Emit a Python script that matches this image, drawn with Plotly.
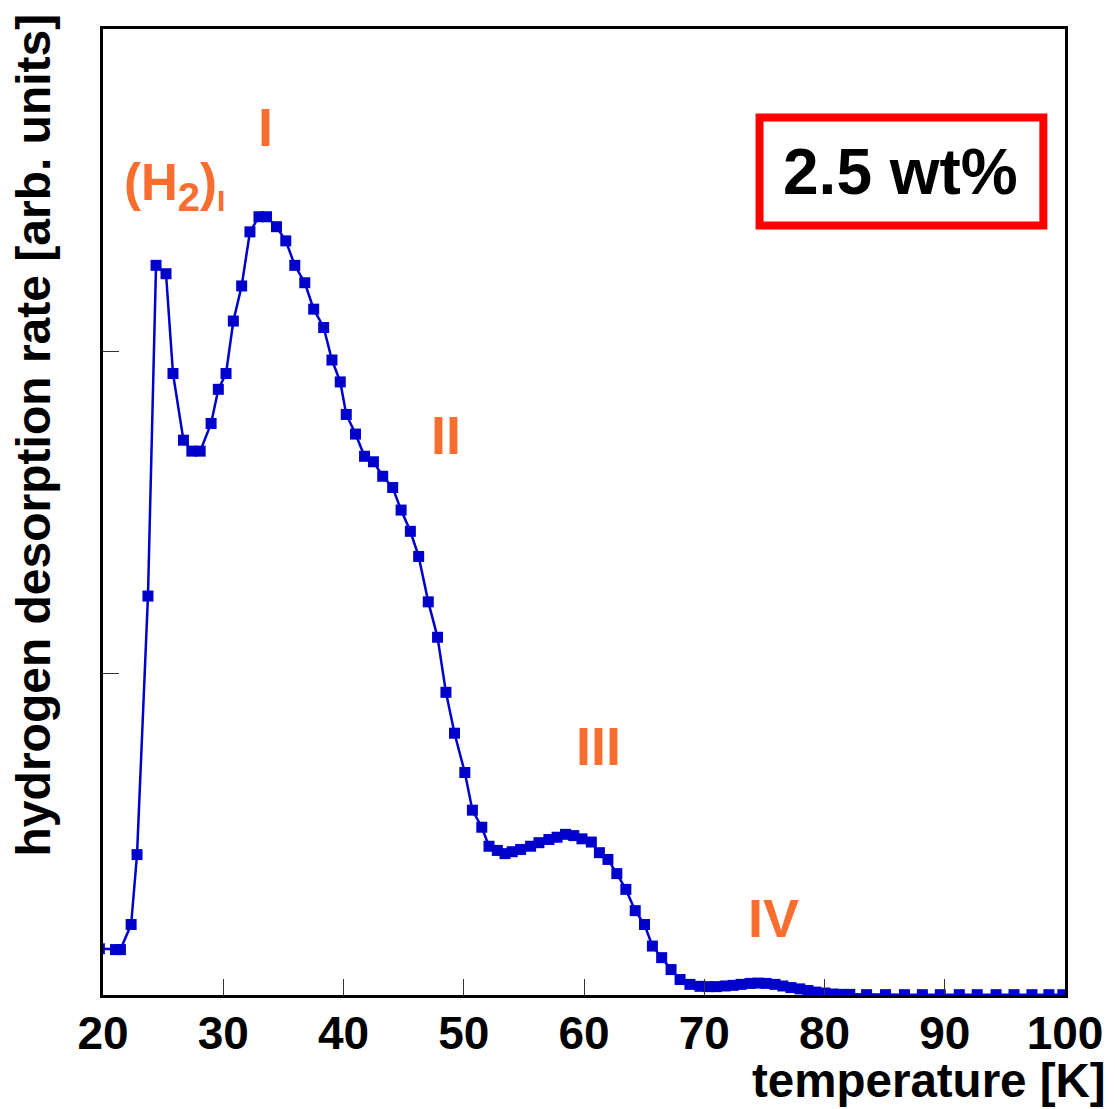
import plotly.graph_objects as go

# ---- data ----
temperature_K = [19.7, 21.04, 21.45, 22.34, 22.83, 23.74, 24.41, 25.24, 25.82, 26.69,
                 27.39, 28.08, 28.99, 29.59, 30.23, 30.84, 31.53, 32.22, 32.97, 33.60,
                 34.43, 35.20, 35.95, 36.78, 37.52, 38.35, 39.04, 39.73, 40.23, 41.00,
                 41.75, 42.49, 43.26, 44.09, 44.79, 45.56, 46.25, 47.05, 47.82, 48.52,
                 49.23, 50.09, 50.72, 51.50, 52.10, 52.79, 53.43, 54.03, 54.73, 55.56,
                 56.25, 57.08, 57.76, 58.46, 59.15, 59.83, 60.61, 61.28, 61.99, 62.73,
                 63.48, 64.26, 65.03, 65.69, 66.46, 67.24, 67.99, 68.81, 69.64, 70.33,
                 71.00, 71.74, 72.40, 73.06, 73.81, 74.47, 75.14, 75.88, 76.54, 77.21,
                 77.95, 78.62, 79.28, 80.03, 80.69, 81.35, 82.10, 83.50, 85.07, 86.65,
                 88.14, 89.63, 91.21, 92.70, 94.27, 95.76, 97.25, 98.66, 99.82]
desorption_rate = [0.144, 0.141, 0.141, 0.219, 0.436, 1.239, 2.266, 2.240, 1.930, 1.723,
                   1.689, 1.689, 1.775, 1.881, 1.930, 2.093, 2.202, 2.370, 2.417, 2.417,
                   2.386, 2.342, 2.266, 2.212, 2.130, 2.073, 1.972, 1.904, 1.803, 1.742,
                   1.673, 1.656, 1.611, 1.576, 1.506, 1.440, 1.362, 1.221, 1.111, 0.940,
                   0.813, 0.691, 0.574, 0.521, 0.462, 0.449, 0.439, 0.445, 0.452, 0.462,
                   0.473, 0.483, 0.490, 0.499, 0.495, 0.485, 0.475, 0.442, 0.421, 0.377,
                   0.328, 0.262, 0.219, 0.152, 0.116, 0.079, 0.048, 0.033, 0.027, 0.026,
                   0.026, 0.028, 0.030, 0.033, 0.036, 0.037, 0.036, 0.033, 0.028, 0.023,
                   0.019, 0.014, 0.009, 0.006, 0.003, 0.002, 0.002, 0.001, 0.001, 0.001,
                   0.001, 0.001, 0.001, 0.001, 0.001, 0.001, 0.001, 0.001, 0.001]

x_ticks = [20, 30, 40, 50, 60, 70, 80, 90, 100]
y_ticks = [1, 2]

peak_labels = ["I", "II", "III", "IV"]
peak_label_T = [33.52, 48.54, 61.22, 75.76]
peak_label_rate = [2.697, 1.740, 0.772, 0.238]

FONT = "Liberation Sans, Arial, sans-serif"
ORANGE = "#F96D2E"
BLUE = "#0000CC"

fig = go.Figure()
fig.add_trace(go.Scatter(
    x=temperature_K, y=desorption_rate, mode="lines+markers",
    line=dict(color=BLUE, width=2.5),
    marker=dict(symbol="square", size=11, color=BLUE, line=dict(width=0)),
    showlegend=False,
))

annotations = []
for lab, xt, yt in zip(peak_labels, peak_label_T, peak_label_rate):
    annotations.append(dict(x=xt, y=yt, xref="x", yref="y", text=lab, showarrow=False,
                            xanchor="center", yanchor="middle",
                            font=dict(family=FONT, size=54, color=ORANGE, weight="bold")))
annotations.append(dict(
    x=21.62, y=2.51, xref="x", yref="y", xanchor="left", yanchor="middle",
    text="(H<sub><span style='font-size:40px'>2</span></sub>)<sub><span style='font-size:30px'>I</span></sub>",
    showarrow=False, font=dict(family=FONT, size=51, color=ORANGE, weight="bold")))
annotations.append(dict(
    x=86.35, y=2.557, xref="x", yref="y", xanchor="center", yanchor="middle",
    text="2.5 wt%", showarrow=False,
    font=dict(family=FONT, size=64, color="black", weight="bold")))
annotations.append(dict(
    x=1.0445, y=-0.0885, xref="paper", yref="paper", xanchor="right", yanchor="middle",
    text="temperature [K]", showarrow=False,
    font=dict(family=FONT, size=47.5, color="black", weight="bold")))
annotations.append(dict(
    x=-0.072, y=0.580, xref="paper", yref="paper", xanchor="center", yanchor="middle",
    text="hydrogen desorption rate [arb. units]", textangle=-90, showarrow=False,
    font=dict(family=FONT, size=48, color="black", weight="bold")))

fig.add_shape(type="rect", xref="x", yref="y", x0=74.60, x1=98.2, y0=2.390, y1=2.725,
              line=dict(color="#FF0000", width=8), fillcolor="rgba(0,0,0,0)")

# the page body adds an 8px offset; compensate so the plot area lands where the reference has it
fig.update_layout(
    width=1107, height=1101,
    margin=dict(l=94.5, r=47, t=21, b=113.5),
    paper_bgcolor="white", plot_bgcolor="white",
    font=dict(family=FONT, color="black"),
    annotations=annotations,
    xaxis=dict(range=[20, 100], tickvals=x_ticks, ticktext=[str(v) for v in x_ticks],
               ticks="inside", ticklen=16, tickwidth=1, tickcolor="#333",
               showline=True, linecolor="black", linewidth=2.5, mirror=True,
               showgrid=False, zeroline=False, ticklabelstandoff=-4,
               tickfont=dict(family=FONT, size=46, color="black", weight="bold")),
    yaxis=dict(range=[0, 3], tickvals=y_ticks, showticklabels=False,
               ticks="inside", ticklen=16, tickwidth=1, tickcolor="#333",
               showline=True, linecolor="black", linewidth=2.5, mirror=True,
               showgrid=False, zeroline=False),
)

fig.write_html("out.html")
